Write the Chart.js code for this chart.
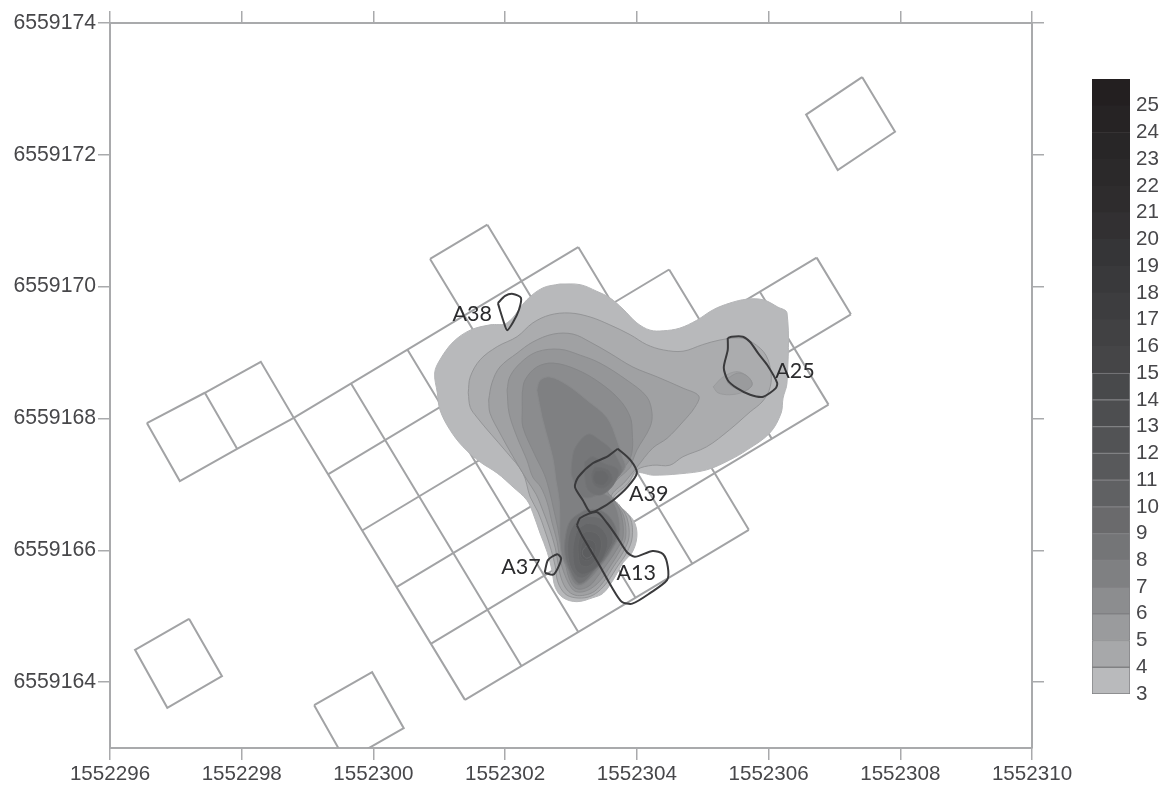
<!DOCTYPE html>
<html>
<head>
<meta charset="utf-8">
<script src="https://cdn.jsdelivr.net/npm/chart.js@4/dist/chart.umd.min.js"></script>
<style>
html,body{margin:0;padding:0;background:#fff;overflow:hidden}
canvas{position:absolute;display:block}
#main{left:0;top:0}
#bar{left:1060px;top:0}
</style>
</head>
<body>
<canvas id="main" width="1169" height="787"></canvas>
<canvas id="bar" width="109" height="787"></canvas>
<script>
// Data origin: every x/y value below is an offset from these coordinates.
const X0 = 1552296, Y0 = 6559163;

const xTicks = [1552296,1552298,1552300,1552302,1552304,1552306,1552308,1552310];
const yTicks = [6559164,6559166,6559168,6559170,6559172,6559174];
const barLevels = [3,4,5,6,7,8,9,10,11,12,13,14,15,16,17,18,19,20,21,22,23,24,25];
const barColors = ['#b9babc','#a7a8aa','#9a9b9d','#8c8d8f','#7f8082','#747577','#6a6a6c','#606163','#58595b','#525355','#4d4e50','#48494b','#454547','#414143','#3d3d3f','#39393b','#353537','#323032','#2e2c2d','#2b292a','#282627','#262324','#231f20'];

// sampling-square grid: segments separated by null
const gridX = [4.86,5.73,null,2.79,7.11,null,3.31,8.49,null,3.83,10.73,null,4.35,11.25,null,4.87,10.91,null,5.39,9.70,null,
  2.79,5.39,null,3.66,6.25,null,4.52,7.11,null,4.86,7.98,null,5.73,8.84,null,7.11,9.70,null,8.49,10.05,null,9.87,10.91,null,10.73,11.25,null,
  0.56,1.44,2.29,2.79,1.93,1.06,0.56,null,1.44,1.93,null,
  11.42,11.92,11.05,10.57,11.42,null,1.20,1.70,0.87,0.38,1.20,null,3.10,3.98,4.46,3.58,3.10];
const gridY = [7.42,7.94,null,5.01,7.60,null,4.15,7.26,null,3.30,7.44,null,2.44,6.58,null,1.58,5.21,null,0.73,3.31,null,
  5.01,0.73,null,5.53,1.24,null,6.04,1.76,null,7.42,2.28,null,7.94,2.80,null,7.60,3.31,null,7.26,4.69,null,6.92,5.21,null,7.44,6.58,null,
  4.93,5.39,5.86,5.01,4.54,4.05,4.93,null,5.39,4.54,null,
  10.18,9.35,8.77,9.61,10.18,null,1.96,1.09,0.61,1.49,1.96,null,0.65,1.15,0.30,-0.20,0.65];

// contour outlines
const c3x = [6.83,7.14,7.39,7.59,7.79,8.00,8.20,8.40,8.65,8.91,9.16,9.41,9.67,9.92,10.14,10.28,10.28,10.22,10.19,10.02,9.67,9.41,9.06,8.65,8.24,8.00,7.85,7.64,7.70,7.85,7.97,8.00,7.93,7.79,7.64,7.49,7.33,7.09,6.88,6.76,6.71,6.64,6.53,6.42,6.33,6.12,5.88,5.62,5.36,5.16,5.01,4.97,4.93,5.01,5.21,5.47,5.77,6.03,6.33,6.57,6.83];
const c3y = [7.04,7.03,6.93,6.83,6.66,6.45,6.34,6.33,6.37,6.49,6.65,6.75,6.81,6.80,6.69,6.60,5.54,5.31,5.08,4.78,4.52,4.37,4.22,4.16,4.14,4.17,3.96,3.73,3.69,3.57,3.41,3.20,2.97,2.81,2.55,2.35,2.28,2.22,2.28,2.44,2.70,2.97,3.26,3.57,3.76,3.96,4.17,4.34,4.57,4.83,5.13,5.39,5.69,5.89,6.16,6.34,6.42,6.45,6.80,6.98,7.04];
const c4x = [5.44,5.47,5.62,5.88,6.18,6.42,6.68,6.98,7.29,7.59,7.90,8.15,8.40,8.70,9.00,9.26,9.57,9.76,9.96,10.04,10.01,9.90,9.72,9.41,9.06,8.70,8.50,8.24,8.00,7.87,7.64,7.74,7.90,7.93,7.85,7.71,7.56,7.41,7.26,7.06,6.91,6.80,6.76,6.70,6.60,6.50,6.38,6.27,6.03,5.77,5.57,5.47,5.44];
const c4y = [5.39,5.63,5.89,6.09,6.24,6.45,6.57,6.60,6.54,6.42,6.27,6.12,6.04,6.02,6.12,6.19,6.22,6.15,5.96,5.66,5.43,5.25,5.10,4.83,4.57,4.42,4.29,4.29,4.22,4.02,3.79,3.66,3.49,3.20,2.97,2.76,2.53,2.37,2.29,2.28,2.34,2.52,2.76,3.00,3.31,3.58,3.81,4.17,4.48,4.78,5.02,5.17,5.39];
const c5x = [5.75,5.80,5.92,6.18,6.42,6.73,7.03,7.29,7.59,7.94,8.31,8.70,8.94,8.88,8.70,8.46,8.24,8.00,7.82,7.61,7.73,7.85,7.88,7.79,7.65,7.50,7.36,7.21,7.06,6.94,6.85,6.80,6.76,6.67,6.57,6.47,6.33,6.12,5.92,5.77,5.75];
const c5y = [5.28,5.54,5.78,5.99,6.16,6.28,6.28,6.16,5.99,5.78,5.63,5.46,5.34,5.17,4.95,4.70,4.55,4.26,4.04,3.82,3.69,3.49,3.20,2.97,2.76,2.53,2.38,2.32,2.32,2.40,2.58,2.82,3.04,3.34,3.61,3.85,4.07,4.42,4.78,5.08,5.28];
const c6x = [6.03,6.07,6.23,6.48,6.83,7.14,7.44,7.85,8.15,8.23,8.20,8.00,7.94,7.90,7.70,7.56,7.68,7.80,7.83,7.74,7.61,7.46,7.32,7.18,7.06,6.98,6.89,6.83,6.79,6.71,6.64,6.54,6.42,6.33,6.18,6.06,6.03];
const c6y = [5.43,5.63,5.84,6.01,6.05,5.96,5.84,5.58,5.33,5.08,4.87,4.52,4.37,4.26,4.07,3.90,3.72,3.52,3.20,2.99,2.78,2.56,2.43,2.37,2.38,2.47,2.67,2.88,3.13,3.43,3.72,3.96,4.11,4.37,4.72,5.08,5.43];
const c7x = [6.26,6.30,6.48,6.73,7.09,7.44,7.74,7.90,7.93,7.93,7.87,7.67,7.52,7.64,7.76,7.79,7.70,7.56,7.41,7.29,7.15,7.05,6.97,6.91,6.85,6.80,6.74,6.68,6.60,6.45,6.27,6.26,6.26];
const c7y = [5.39,5.58,5.78,5.84,5.74,5.54,5.28,5.02,4.78,4.52,4.34,4.11,3.95,3.78,3.55,3.20,3.02,2.81,2.61,2.47,2.41,2.44,2.58,2.82,3.04,3.34,3.61,3.87,4.14,4.45,4.87,5.13,5.39];
const c8x = [6.48,6.53,6.68,6.94,7.24,7.55,7.70,7.77,7.82,7.62,7.49,7.59,7.71,7.74,7.65,7.52,7.36,7.24,7.12,7.03,6.95,6.86,6.83,6.83,6.82,6.77,6.73,6.64,6.56,6.48];
const c8y = [5.43,5.58,5.63,5.51,5.28,5.01,4.67,4.45,4.25,4.04,3.88,3.81,3.58,3.23,3.04,2.84,2.64,2.52,2.46,2.52,2.70,2.93,3.20,3.46,3.76,4.07,4.37,4.72,5.02,5.43];
const a9x = [7.01,7.06,7.26,7.44,7.62,7.74,7.77,7.62,7.49,7.33,7.18,7.09,7.01,7.01];
const a9y = [4.32,4.55,4.76,4.67,4.52,4.32,4.19,4.02,3.92,3.81,3.81,3.96,4.14,4.32];
const a10x = [7.21,7.33,7.49,7.71,7.64,7.44,7.26,7.21,7.21];
const a10y = [4.34,4.42,4.32,4.22,3.99,3.84,3.92,4.14,4.34];
const a11x = [7.36,7.55,7.62,7.49,7.36,7.32,7.36];
const a11y = [4.26,4.22,4.07,3.95,3.99,4.14,4.26];
const a12x = [7.38,7.50,7.56,7.50,7.39,7.35,7.38];
const a12y = [4.19,4.19,4.10,4.01,4.02,4.10,4.19];
const b9x = [7.21,7.44,7.62,7.70,7.62,7.49,7.33,7.21,7.11,7.00,6.91,6.92,7.00,7.21];
const b9y = [3.61,3.61,3.46,3.23,3.04,2.84,2.66,2.53,2.50,2.66,2.93,3.23,3.46,3.61];
const b10x = [7.24,7.44,7.58,7.64,7.56,7.44,7.30,7.18,7.08,6.98,6.95,6.97,7.06,7.24];
const b10y = [3.52,3.49,3.35,3.16,2.99,2.81,2.66,2.58,2.61,2.78,3.00,3.23,3.41,3.52];
const b11x = [7.24,7.39,7.52,7.56,7.50,7.39,7.27,7.15,7.06,7.03,7.05,7.11,7.24];
const b11y = [3.41,3.38,3.26,3.11,2.91,2.75,2.66,2.64,2.73,2.96,3.16,3.32,3.41];
const b12x = [7.24,7.38,7.46,7.44,7.35,7.24,7.14,7.11,7.11,7.15,7.24];
const b12y = [3.29,3.26,3.14,2.96,2.82,2.75,2.79,2.96,3.11,3.23,3.29];
const b13x = [7.24,7.35,7.38,7.32,7.23,7.15,7.15,7.18,7.24];
const b13y = [3.17,3.13,3.00,2.88,2.84,2.90,3.04,3.13,3.17];
const b14x = [7.24,7.32,7.32,7.24,7.18,7.18,7.24];
const b14y = [3.07,3.02,2.93,2.88,2.93,3.00,3.07];
const d5x = [9.16,9.31,9.52,9.69,9.75,9.61,9.41,9.23,9.16];
const d5y = [5.48,5.63,5.71,5.63,5.51,5.40,5.36,5.39,5.48];
const d6x = [9.38,9.54,9.69,9.75,9.64,9.49,9.38,9.38];
const d6y = [5.61,5.69,5.63,5.51,5.42,5.46,5.54,5.61];

// labelled outlines
const a38x = [5.89,6.00,6.12,6.24,6.21,6.12,6.03,5.97,5.92,5.89];
const a38y = [6.75,6.86,6.89,6.83,6.65,6.46,6.34,6.49,6.65,6.75];
const a25x = [9.38,9.44,9.61,9.72,9.84,9.98,10.13,10.11,9.92,9.72,9.52,9.38,9.32,9.38,9.38];
const a25y = [6.22,6.24,6.24,6.16,5.99,5.81,5.54,5.46,5.33,5.36,5.46,5.58,5.77,6.04,6.22];
const a39x = [7.71,7.90,8.00,7.85,7.64,7.44,7.29,7.18,7.06,7.11,7.33,7.55,7.71];
const a39y = [4.54,4.37,4.17,3.95,3.76,3.63,3.58,3.76,3.96,4.11,4.32,4.42,4.54];
const a13x = [7.09,7.14,7.39,7.55,7.70,7.85,7.97,8.24,8.40,8.47,8.46,8.20,7.93,7.77,7.62,7.41,7.18,7.09];
const a13y = [3.38,3.49,3.58,3.41,3.20,2.97,2.90,2.99,2.94,2.75,2.55,2.35,2.19,2.22,2.44,2.81,3.20,3.38];
const a37x = [6.60,6.65,6.79,6.85,6.80,6.73,6.60];
const a37y = [2.66,2.85,2.94,2.88,2.73,2.63,2.66];

const labelNames = ['A38','A25','A39','A13','A37'];
const labelX = [5.50,10.40,8.18,7.99,6.24];
const labelY = [6.59,5.72,3.85,2.66,2.75];

// each contour: outline arrays, fill, stroke
const contours = [
  [c3x,c3y,'#b8b9bb','#b4b5b7'],[c4x,c4y,'#abacae','#949597'],[c5x,c5y,'#a0a1a3','#8f9092'],
  [c6x,c6y,'#959698','#8b8c8e'],[c7x,c7y,'#8b8c8e','#858688'],[c8x,c8y,'#7f8082','#898a8c'],
  [a9x,a9y,'#767779','#7b7c7e'],[a10x,a10y,'#707173','#737476'],[a11x,a11y,'#6b6c6e','#6d6e70'],[a12x,a12y,'#67686a','#68696b'],
  [b9x,b9y,'#717274','#797a7c'],[b10x,b10y,'#6a6b6d','#727375'],[b11x,b11y,'#646567','#6b6c6e'],[b12x,b12y,'#606163','#676869'],[b13x,b13y,'#5d5e60','#646567'],[b14x,b14y,'#5c5d5f','#6b6c6e'],
  [d5x,d5y,'#a2a3a5','#9a9b9d'],[d6x,d6y,'#9a9b9d','#929395']
];
const outlines = [[a38x,a38y],[a25x,a25y],[a39x,a39y],[a13x,a13y],[a37x,a37y]];

function pts(xs, ys){
  return xs.map((v,i)=> v===null ? {x:NaN,y:NaN} : {x:X0+v,y:Y0+ys[i]});
}
const datasets = [];
let paint = 0;
function add(ds){ ds.order = 1000 - (paint++); datasets.push(ds); }
add({data:pts(gridX,gridY),showLine:true,pointRadius:0,borderColor:'#a2a3a5',borderWidth:2,spanGaps:false,tension:0,fill:false});
contours.forEach(([xs,ys,fillCol,lineCol])=>{
  add({data:pts(xs,ys),showLine:true,pointRadius:0,tension:0.35,fill:'shape',
       backgroundColor:fillCol,borderColor:lineCol,borderWidth:1});
});
outlines.forEach(([xs,ys])=>{
  add({data:pts(xs,ys),showLine:true,pointRadius:0,tension:0.25,fill:false,borderColor:'#3a3a3c',borderWidth:2});
});

const axisGrey = '#a9aaac';
const tickFont = {family:'"Liberation Sans", Arial, sans-serif',size:20.6};
const yFont = {family:tickFont.family,size:21.2};
const gridCfg = {drawOnChartArea:false,drawTicks:true,tickLength:12,color:axisGrey,lineWidth:1.5};
const borderCfg = {display:true,color:axisGrey,width:2};
const labelPlugin = {
  id:'areaLabels',
  afterDatasetsDraw(c){
    const ctx=c.ctx; ctx.save();
    ctx.font='21.5px Lato, "Open Sans", sans-serif';
    ctx.fillStyle='#2b2b2d'; ctx.textAlign='center'; ctx.textBaseline='middle';
    labelNames.forEach((n,i)=>{
      ctx.fillText(n,c.scales.x.getPixelForValue(X0+labelX[i]),c.scales.y.getPixelForValue(Y0+labelY[i]));
    });
    ctx.restore();
  }
};
const setX = s=>{ s.ticks = xTicks.map(v=>({value:v})); };
const setY = s=>{ s.ticks = yTicks.map(v=>({value:v})); };

new Chart(document.getElementById('main'),{
  type:'scatter',
  data:{datasets},
  plugins:[labelPlugin],
  options:{
    responsive:false,animation:false,events:[],
    layout:{padding:0},
    plugins:{legend:{display:false},tooltip:{enabled:false}},
    scales:{
      x:{type:'linear',position:'bottom',min:xTicks[0],max:xTicks[xTicks.length-1],
         afterBuildTicks:setX,afterFit:s=>{s.height=39},
         grid:gridCfg,border:borderCfg,
         ticks:{autoSkip:false,maxRotation:0,padding:2,color:'#47474a',font:tickFont,callback:v=>String(v)}},
      x2:{type:'linear',position:'top',min:xTicks[0],max:xTicks[xTicks.length-1],
         afterBuildTicks:setX,afterFit:s=>{s.height=23},
         grid:gridCfg,border:borderCfg,
         ticks:{autoSkip:false,maxRotation:0,callback:()=>''}},
      y:{type:'linear',position:'left',min:6559163,max:yTicks[yTicks.length-1],
         afterBuildTicks:setY,afterFit:s=>{s.width=110},
         grid:gridCfg,border:borderCfg,
         ticks:{autoSkip:false,padding:2,color:'#47474a',font:yFont,callback:v=>String(v)}},
      y2:{type:'linear',position:'right',min:6559163,max:yTicks[yTicks.length-1],
         afterBuildTicks:setY,afterFit:s=>{s.width=137},
         grid:gridCfg,border:borderCfg,
         ticks:{autoSkip:false,callback:()=>''}}
    }
  }
});

new Chart(document.getElementById('bar'),{
  type:'bar',
  data:{
    labels:['scale'],
    datasets:barLevels.map((lev,i)=>({
      data:[[lev,lev+1]],backgroundColor:barColors[i],
      borderColor:i<12?'#808183':barColors[i],borderWidth:i<12?1:0,borderSkipped:false,
      barPercentage:1,categoryPercentage:1,grouped:false
    }))
  },
  options:{
    responsive:false,animation:false,events:[],
    layout:{padding:{left:32,top:79,bottom:93,right:0}},
    plugins:{legend:{display:false},tooltip:{enabled:false}},
    scales:{
      x:{display:false},
      y:{position:'right',min:3,max:26,afterFit:s=>{s.width=39},
         afterBuildTicks:s=>{s.ticks=barLevels.map(v=>({value:v}))},
         grid:{display:false,drawTicks:false},border:{display:false},
         ticks:{autoSkip:false,padding:6,color:'#47474a',font:{family:tickFont.family,size:20.6}}}
    }
  }
});
</script>
</body>
</html>
